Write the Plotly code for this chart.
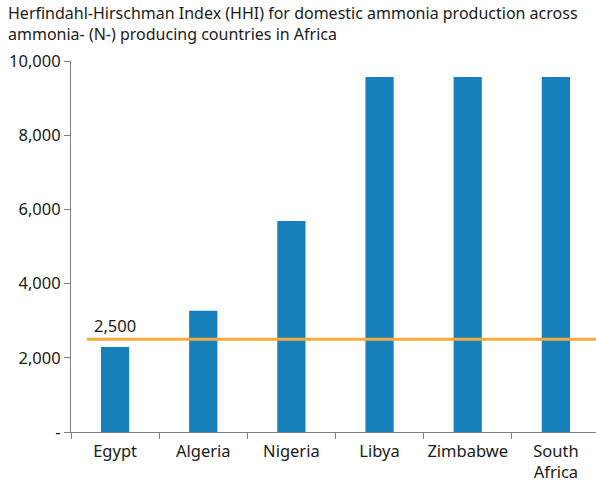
import plotly.graph_objects as go

# HHI values by country
countries = ["Egypt", "Algeria", "Nigeria", "Libya", "Zimbabwe", "South<br>Africa"]
hhi = [2290, 3270, 5690, 9570, 9570, 9570]

# Threshold for a highly concentrated market
threshold = 2500
threshold_label = "2,500"

y_tickvals = [0, 2000, 4000, 6000, 8000, 10000]
y_ticktext = ["-", "2,000", "4,000", "6,000", "8,000", "10,000"]

title_text = ("Herfindahl-Hirschman Index (HHI) for domestic ammonia production across<br>"
              "ammonia- (N-) producing countries in Africa")

font_family = "Noto Sans, Open Sans, sans-serif"
text_color = "#1a1a1a"
axis_color = "#808080"
tick_size = 16.5

fig = go.Figure()
fig.add_trace(go.Bar(
    x=countries, y=hhi,
    marker=dict(color="#1580ba", line=dict(width=0)),
    width=0.32,
    hoverinfo="x+y",
))

fig.add_shape(type="line", xref="paper", yref="y",
              x0=0.03, x1=1, y0=threshold, y1=threshold,
              line=dict(color="#f7a93b", width=3))

fig.add_annotation(x=0, y=threshold, xref="x", yref="y",
                   text=threshold_label, showarrow=False,
                   xanchor="center", yanchor="bottom", yshift=0,
                   font=dict(family=font_family, size=tick_size, color=text_color))

# Chart title, placed above the plot area at the left edge of the figure
fig.add_annotation(xref="paper", yref="paper", x=0, y=1,
                   xanchor="left", yanchor="top", align="left",
                   xshift=-65, yshift=61,
                   text=title_text, showarrow=False,
                   font=dict(family=font_family, size=16, color=text_color))

fig.update_layout(
    width=596, height=482,
    margin=dict(l=71, r=0, t=61, b=50, autoexpand=False),
    plot_bgcolor="white", paper_bgcolor="white",
    showlegend=False,
    font=dict(family=font_family, size=tick_size, color=text_color),
)

fig.update_xaxes(
    range=[-0.5, 5.455],
    showline=True, linecolor=axis_color, linewidth=1,
    ticks="outside", tickson="boundaries", ticklen=6, tickcolor=axis_color,
    showgrid=False, zeroline=False, ticklabelstandoff=4,
    tickangle=0, automargin=False,
    tickfont=dict(family=font_family, size=tick_size, color=text_color),
)
fig.update_yaxes(
    range=[0, 10000],
    tickvals=y_tickvals, ticktext=y_ticktext,
    showline=True, linecolor=axis_color, linewidth=1,
    ticks="outside", ticklen=6, tickcolor=axis_color,
    showgrid=False, zeroline=False, automargin=False,
    tickfont=dict(family=font_family, size=tick_size, color=text_color),
)

fig.write_html("out.html")
